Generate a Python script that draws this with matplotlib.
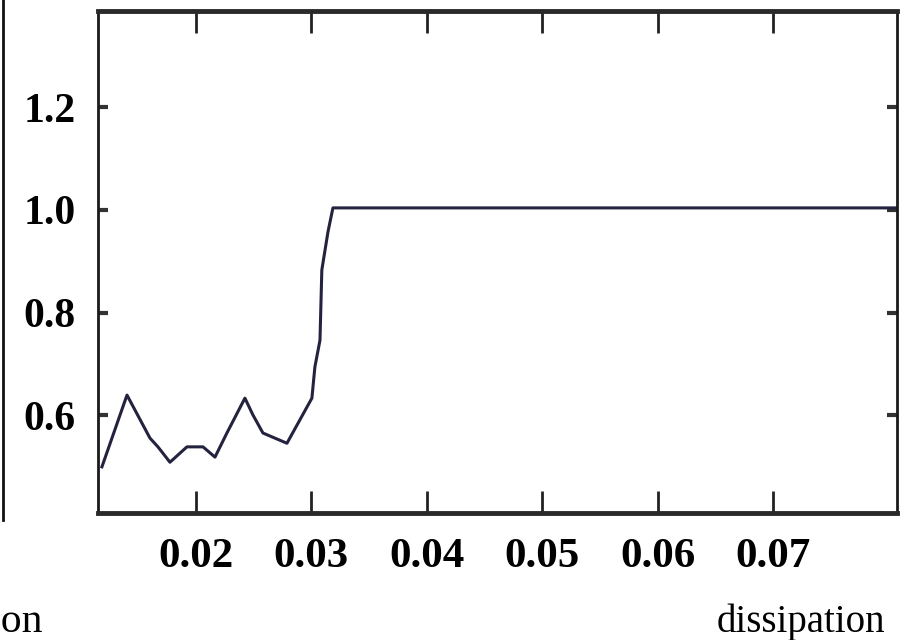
import matplotlib
matplotlib.use("Agg")
import matplotlib.pyplot as plt
from matplotlib.lines import Line2D

# curve
dissipation = [0.01186, 0.01403, 0.01602, 0.01671, 0.01775, 0.01922, 0.02061,
               0.02165, 0.02268, 0.02424, 0.02494, 0.02580, 0.02684, 0.02788,
               0.03004, 0.03030, 0.03074, 0.03090, 0.03143, 0.03186, 0.0807]
value = [0.499, 0.639, 0.555, 0.538, 0.508, 0.538, 0.538,
         0.518, 0.565, 0.633, 0.600, 0.565, 0.555, 0.545,
         0.633, 0.694, 0.746, 0.883, 0.957, 1.004, 1.004]

xticks = [0.02, 0.03, 0.04, 0.05, 0.06, 0.07]
xlabels = ["0.02", "0.03", "0.04", "0.05", "0.06", "0.07"]
yticks = [0.6, 0.8, 1.0, 1.2]
ylabels = ["0.6", "0.8", "1.0", "1.2"]

plt.rcParams['font.family'] = ['Liberation Serif', 'DejaVu Serif']

fig = plt.figure(figsize=(9.01, 6.4), dpi=100)
ax = fig.add_axes([98 / 901, 1 - 513 / 640, 799 / 901, 502 / 640])

ax.plot(dissipation, value, color="#23233f", lw=2.2)

ax.set_xlim(0.01152, 0.0807)
ax.set_ylim(0.409, 1.388)

ax.set_xticks(xticks)
ax.set_xticklabels(xlabels, fontsize=31, fontweight="bold")
ax.set_yticks(yticks)
ax.set_yticklabels(ylabels, fontsize=30, fontweight="bold")

ax.tick_params(axis="x", direction="in", length=16, width=2, top=True,
               pad=18, color="#222222")
ax.tick_params(axis="y", direction="in", length=7, width=3, right=True,
               pad=16, color="#333333")

for side in ["top", "bottom"]:
    ax.spines[side].set_linewidth(3.5)
    ax.spines[side].set_color("#2a2a2a")
for side in ["left", "right"]:
    ax.spines[side].set_linewidth(2)
    ax.spines[side].set_color("#1a1a1a")

# frame of the neighbouring panel, cut off at the left edge
fig.add_artist(Line2D([3 / 901, 3 / 901], [1.0, 1 - 520 / 640],
                      transform=fig.transFigure, color="#111111", lw=2))
fig.text(43 / 901, 1 - 632 / 640, "dissipation", fontsize=30,
         ha="right", va="baseline")
fig.text(885 / 901, 1 - 632 / 640, "dissipation", fontsize=28,
         ha="right", va="baseline")

fig.savefig("out.png", dpi=100)
